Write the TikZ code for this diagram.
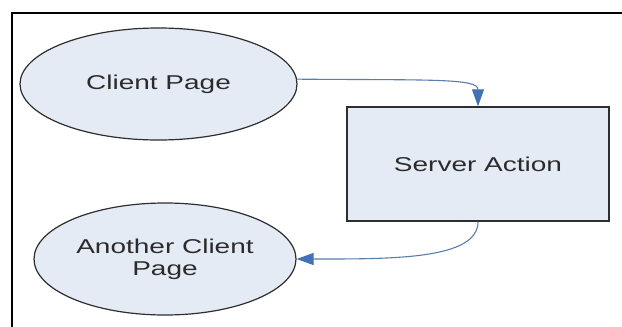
\documentclass[tikz,border=0pt]{standalone}
\usepackage{fontspec}
\setmainfont{Liberation Sans}
\newfontfamily\labelfont[FakeStretch=1.4]{Liberation Sans}
\usetikzlibrary{shapes.geometric,arrows.meta}
\definecolor{shapefill}{HTML}{E5EBF5}
\definecolor{shapeline}{HTML}{2E2E2E}
\definecolor{linkline}{HTML}{5A7DAE}
\definecolor{linkhead}{HTML}{4470B8}
\definecolor{labeltext}{HTML}{2B2B2B}
\tikzset{
  pagenode/.style={ellipse, draw=shapeline, line width=1.2pt, fill=shapefill,
    inner sep=0pt, align=center, text=labeltext,
    font=\labelfont\fontsize{20}{22}\selectfont},
  actionnode/.style={rectangle, draw=shapeline, line width=1.5pt, fill=shapefill,
    inner sep=0pt, align=center, text=labeltext,
    font=\labelfont\fontsize{20}{22}\selectfont},
  link/.style={draw=linkline, line width=1.1pt,
    -{Triangle[length=17pt,width=12pt,fill=linkhead,color=linkhead]}},
}
\begin{document}
\begin{tikzpicture}[x=1pt,y=-1pt]
  \useasboundingbox (0,0) rectangle (622,327);
  \fill[white] (0,0) rectangle (622,327);
  \clip (0,0) rectangle (622,327);
  % outer frame
  \draw[black, line width=2pt] (12,13) rectangle (640,345);

  % nodes
  \node[pagenode, minimum width=277pt, minimum height=112pt] (cp) at (158.5,84) {Client Page};
  \node[actionnode, minimum width=262pt, minimum height=114pt] (sa) at (478,164) {Server Action};
  \node[pagenode, minimum width=262pt, minimum height=112pt] (ac) at (165,259) {Another Client\\Page};

  % connectors
  \draw[link] (cp.2) .. controls +(135,1) and +(0,-28) .. (sa.north);
  \draw[link] (sa.south) .. controls +(0,38) and +(95,0) .. (ac.east);
\end{tikzpicture}
\end{document}
